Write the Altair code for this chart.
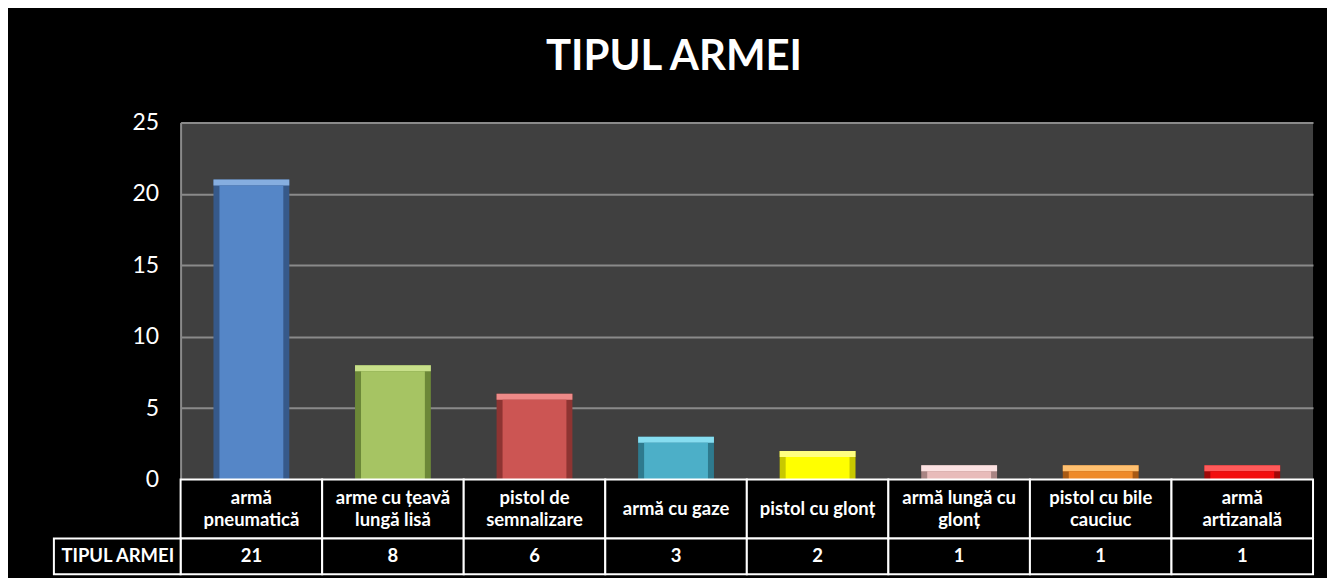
import altair as alt
import pandas as pd

categories = ["armă\npneumatică", "arme cu țeavă\nlungă lisă", "pistol de\nsemnalizare",
              "armă cu gaze", "pistol cu glonț", "armă lungă cu\nglonț",
              "pistol cu bile\ncauciuc", "armă\nartizanală"]
values = [21, 8, 6, 3, 2, 1, 1, 1]
fill_colors = ["#5586C7", "#A6C463", "#CC5553", "#4CAFC8", "#FFFF00", "#E8BBBA", "#EE8A2A", "#F20E0E"]
edge_colors = ["#36598A", "#6C8838", "#8E3432", "#2E7A8E", "#C8C800", "#A88483", "#A85A14", "#A00808"]
top_colors = ["#86AEE0", "#C8E08A", "#EE8A88", "#86DDF0", "#FFFF80", "#FCE2E2", "#FFC070", "#FF5A5A"]
series_name = "TIPUL ARMEI"
y_ticks = [0, 5, 10, 15, 20, 25]

df = pd.DataFrame({"cat": categories, "val": values, "fill": fill_colors,
                   "edge": edge_colors, "top": top_colors})
df["two"] = df["cat"].str.contains("\n")

W, H = 1135, 358
FONT = "Lato"
FS = 18.5

x = alt.X("cat:N", sort=categories, scale=alt.Scale(paddingInner=0, paddingOuter=0), axis=None)
y = alt.Y("val:Q", scale=alt.Scale(domain=[0, 25], nice=False),
          axis=alt.Axis(values=y_ticks, title=None, grid=True, gridColor="#8A8A8A", gridWidth=2,
                        domain=True, domainColor="#8A8A8A", domainWidth=2, ticks=False,
                        labelColor="white", labelFontSize=23, labelFont=FONT, labelPadding=22))

base = alt.Chart(df)

outer = base.mark_bar(size=76).encode(x=x, y=y, color=alt.Color("edge:N", scale=None))
top = base.mark_bar(size=76, y2Offset=6).encode(x=x, y="val:Q", y2="val:Q",
                                                 color=alt.Color("top:N", scale=None))
inner = base.mark_bar(size=64, yOffset=6).encode(x=x, y="val:Q", color=alt.Color("fill:N", scale=None))

cell1 = base.mark_rect(fill="black", stroke="white", strokeWidth=2).encode(
    x=x, y=alt.value(H), y2=alt.value(H + 59))
cell2 = base.mark_rect(fill="black", stroke="white", strokeWidth=2).encode(
    x=x, y=alt.value(H + 59), y2=alt.value(H + 95))
lab1 = base.transform_filter("!datum.two").mark_text(
    color="white", fontSize=FS, fontWeight="bold", font=FONT, baseline="middle").encode(
    x=x, y=alt.value(H + 30), text="cat:N")
lab2 = base.transform_filter("datum.two").mark_text(
    color="white", fontSize=FS, fontWeight="bold", font=FONT,
    lineBreak="\n", lineHeight=23, baseline="middle").encode(
    x=x, y=alt.value(H + 18), text="cat:N")
vals = base.mark_text(color="white", fontSize=FS, fontWeight="bold", font=FONT,
                      baseline="middle").encode(x=x, y=alt.value(H + 77), text="val:Q")

name_df = pd.DataFrame({"name": [series_name]})
name_cell = alt.Chart(name_df).mark_rect(fill="black", stroke="white", strokeWidth=2).encode(
    x=alt.value(-127), x2=alt.value(0), y=alt.value(H + 59), y2=alt.value(H + 95))
name_text = alt.Chart(name_df).mark_text(color="white", fontSize=FS, fontWeight="bold", font=FONT,
                                         baseline="middle").encode(
    x=alt.value(-63), y=alt.value(H + 77), text="name:N")

chart = alt.layer(outer, top, inner, cell1, cell2, lab1, lab2, vals, name_cell, name_text).properties(
    width=W, height=H,
    title=alt.TitleParams(series_name, color="white", fontSize=42, font=FONT, fontWeight="bold",
                          anchor="middle", dx=-73, dy=34, offset=34, baseline="alphabetic"),
    autosize=alt.AutoSizeParams(type="none"),
    padding={"left": 173, "top": 114, "right": 14, "bottom": 98},
).configure(background="black").configure_view(fill="#404040", stroke=None)

chart.save("out.html", embed_options={"renderer": "svg", "actions": False})
